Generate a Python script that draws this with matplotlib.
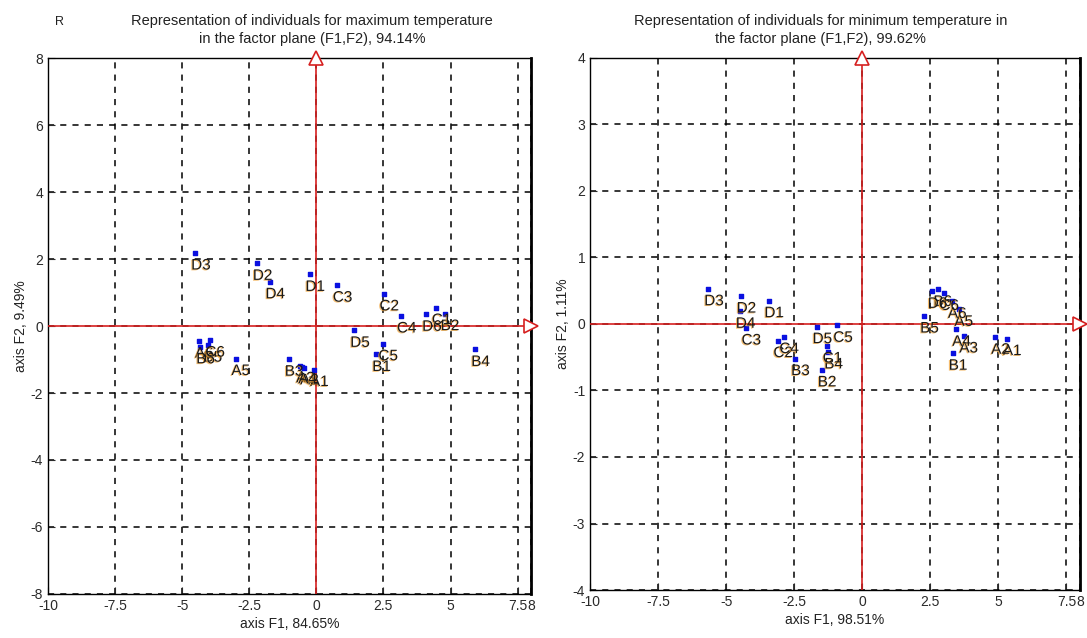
import matplotlib
matplotlib.use('Agg')
import matplotlib.pyplot as plt
import matplotlib.patheffects as pe

plt.rcParams['font.family'] = ['Liberation Sans', 'DejaVu Sans']

labels = ['A1', 'A2', 'A3', 'A4', 'A5', 'A6',
          'B1', 'B2', 'B3', 'B4', 'B5', 'B6',
          'C1', 'C2', 'C3', 'C4', 'C5', 'C6',
          'D1', 'D2', 'D3', 'D4', 'D5', 'D6']

# maximum temperature, factor plane (F1, F2)
tmax_f1 = [-0.08, -0.45, -0.60, -0.52, -3.01, -4.37,
           2.24, 4.79, -1.02, 5.93, -4.05, -4.32,
           4.46, 2.51, 0.77, 3.16, 2.47, -3.98,
           -0.25, -2.21, -4.51, -1.74, 1.42, 4.10]
tmax_f2 = [-1.30, -1.25, -1.19, -1.22, -0.97, -0.45,
           -0.85, 0.37, -0.99, -0.70, -0.57, -0.62,
           0.55, 0.96, 1.22, 0.30, -0.53, -0.42,
           1.54, 1.87, 2.18, 1.32, -0.13, 0.35]

# minimum temperature, factor plane (F1, F2)
tmin_f1 = [5.32, 4.89, 3.72, 3.46, 3.54, 3.30,
           3.33, -1.48, -2.46, -1.24, 2.28, 2.77,
           -1.30, -3.11, -4.28, -2.89, -0.91, 2.99,
           -3.44, -4.46, -5.65, -4.49, -1.67, 2.56]
tmin_f2 = [-0.22, -0.20, -0.18, -0.08, 0.22, 0.34,
           -0.44, -0.69, -0.52, -0.42, 0.12, 0.52,
           -0.33, -0.25, -0.06, -0.19, -0.02, 0.46,
           0.35, 0.42, 0.53, 0.19, -0.04, 0.49]

xticks = [-10, -7.5, -5, -2.5, 0, 2.5, 5, 7.5, 8]
xticklabels = ['-10', '-7.5', '-5', '-2.5', '0', '2.5', '5', '7.5', '8']


def panel(ax, f1, f2, ymax, ystep, xlabel, ylabel):
    ax.set_xlim(-10, 8)
    ax.set_ylim(-ymax, ymax)
    ax.set_xticks(xticks)
    ax.set_xticklabels(xticklabels)
    yt = [-ymax + i * ystep for i in range(int(2 * ymax / ystep) + 1)]
    ax.set_yticks(yt)
    ax.set_yticklabels([str(int(v)) for v in yt])
    ax.grid(True, color='black', linestyle=(0, (4, 4)), linewidth=1.1)
    ax.tick_params(direction='in', length=5, labelsize=10, colors='#2a2a2a')
    for s in ax.spines.values():
        s.set_color('black')
        s.set_linewidth(1.0)
    ax.spines['right'].set_linewidth(2)

    # red factor axes with open arrow heads
    ax.axvline(0, color='#d62020', lw=1.2, zorder=3)
    ax.axhline(0, color='#d62020', lw=1.2, zorder=3)
    ax.plot([0], [ymax], marker='^', ms=10, mfc='white', mec='#d62020',
            mew=1.2, clip_on=False, zorder=5)
    ax.plot([8], [0], marker='>', ms=10, mfc='white', mec='#d62020',
            mew=1.2, clip_on=False, zorder=5)

    ax.scatter(f1, f2, marker='s', s=10, color='#0a10e0', zorder=6)
    for lab, x, y in zip(labels, f1, f2):
        ax.annotate(lab, (x, y), xytext=(-3, -9), textcoords='offset points',
                    ha='left', va='center', fontsize=11, color='#1a1a1a',
                    zorder=7,
                    path_effects=[pe.withSimplePatchShadow(
                        offset=(-0.8, -0.6), shadow_rgbFace='#f0a030', alpha=0.7)])
    ax.set_xlabel(xlabel, fontsize=10, color='#222222', labelpad=3)
    ax.set_ylabel(ylabel, fontsize=10, color='#222222', labelpad=2)


fig = plt.figure(figsize=(10.87, 6.38), dpi=100)
ax1 = fig.add_axes([0.0442, 0.069, 0.4443, 0.840])
ax2 = fig.add_axes([0.5428, 0.0752, 0.4508, 0.834])

panel(ax1, tmax_f1, tmax_f2, 8, 2, 'axis F1, 84.65%', 'axis F2, 9.49%')
panel(ax2, tmin_f1, tmin_f2, 4, 1, 'axis F1, 98.51%', 'axis F2, 1.11%')

fig.text(0.287, 0.953, 'Representation of individuals for maximum temperature\n'
         'in the factor plane (F1,F2), 94.14%', ha='center', va='center',
         fontsize=10.5, color='#222222', linespacing=1.35)
fig.text(0.755, 0.953, 'Representation of individuals for minimum temperature in\n'
         'the factor plane (F1,F2), 99.62%', ha='center', va='center',
         fontsize=10.5, color='#222222', linespacing=1.35)
fig.text(0.055, 0.965, 'R', fontsize=9, color='#222222', ha='center', va='center')

fig.savefig('out.png', dpi=100)
